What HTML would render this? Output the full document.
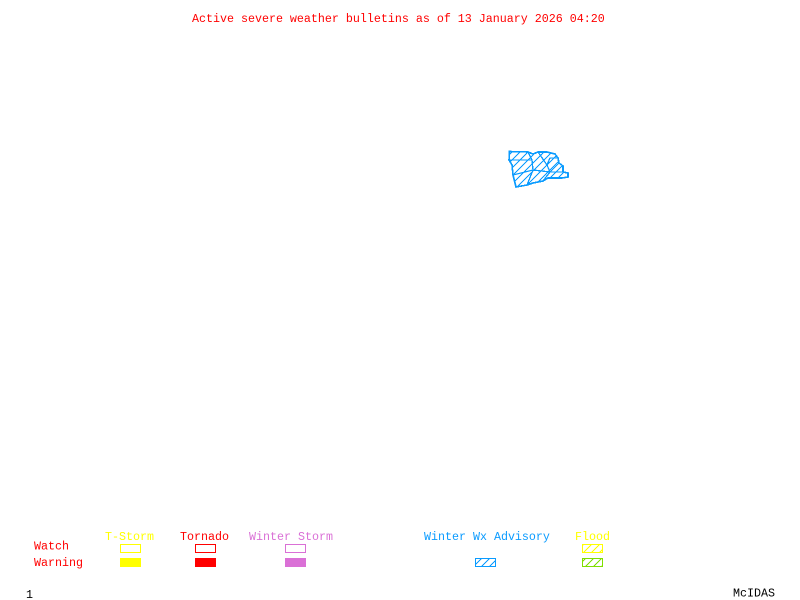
<!DOCTYPE html>
<html><head><meta charset="utf-8"><style>
html,body{margin:0;padding:0;background:#fff;width:800px;height:600px;overflow:hidden}
svg{display:block}
text{font-family:"Liberation Mono",monospace;font-size:11.67px;white-space:pre}
</style></head><body>
<svg width="800" height="600" viewBox="0 0 800 600" xmlns="http://www.w3.org/2000/svg">
<defs>
<pattern id="hb" width="8" height="8" patternUnits="userSpaceOnUse"><path shape-rendering="crispEdges" d="M-2 10L10 -2M-2 2L2 -2M6 10L10 6" stroke="#0a9bff" stroke-width="1.2" fill="none"/></pattern>
<pattern id="hy" width="8" height="8" patternUnits="userSpaceOnUse"><path shape-rendering="crispEdges" d="M-2 10L10 -2M-2 2L2 -2M6 10L10 6" stroke="#ffff00" stroke-width="1.2" fill="none"/></pattern>
<pattern id="hg" width="8" height="8" patternUnits="userSpaceOnUse"><path shape-rendering="crispEdges" d="M-2 10L10 -2M-2 2L2 -2M6 10L10 6" stroke="#7fdf00" stroke-width="1.2" fill="none"/></pattern>
</defs>
<rect width="800" height="600" fill="#fff"/>
<text x="192" y="22" fill="#ff0000">Active severe weather bulletins as of 13 January 2026 04:20</text>

<g stroke="#0a9bff" stroke-width="1.6" fill="url(#hb)" stroke-linejoin="miter" shape-rendering="crispEdges">
<path d="M509.500 151.500L528 152L533 154L538 152L547 152L555 154L558 158L559 163L563 166L563 172L568 173L568 177L562 178L553 178L548 178L543 181L538 182L533 183L527 185L516 187L513 175L512 165L509 160Z"/>
<path fill="none" stroke-width="1.3" d="M509 160L532 160L533 170L513 175M528 152L532 160M533 170L550 172L547 165L538 152M547 165L550 158L558 158M533 170L527 185M550 172L543 181M550 172L559 163M550 172L563 172"/>
</g>

<text x="105" y="540" fill="#ffff00">T-Storm</text>
<text x="180" y="540" fill="#ff0000">Tornado</text>
<text x="249" y="540" fill="#da70d6">Winter Storm</text>
<text x="424" y="540" fill="#0a9bff">Winter Wx Advisory</text>
<text x="575" y="540" fill="#ffff00">Flood</text>
<text x="34" y="549.500" fill="#ff0000">Watch</text>
<text x="34" y="566" fill="#ff0000">Warning</text>

<g shape-rendering="crispEdges">
<rect x="120.500" y="544.500" width="20" height="8" fill="none" stroke="#ffff00"/>
<rect x="120" y="558" width="21" height="9" fill="#ffff00"/>
<rect x="195.500" y="544.500" width="20" height="8" fill="none" stroke="#ff0000"/>
<rect x="195" y="558" width="21" height="9" fill="#ff0000"/>
<rect x="285.500" y="544.500" width="20" height="8" fill="none" stroke="#da70d6"/>
<rect x="285" y="558" width="21" height="9" fill="#da70d6"/>
<rect x="475.500" y="558.500" width="20" height="8" fill="url(#hb)" stroke="#0a9bff"/>
<rect x="582.500" y="544.500" width="20" height="8" fill="url(#hy)" stroke="#ffff00"/>
<rect x="582.500" y="558.500" width="20" height="8" fill="url(#hg)" stroke="#7fdf00"/>
</g>

<text x="26" y="598" fill="#000">1</text>
<text x="733" y="596.500" fill="#000">McIDAS</text>
</svg>
</body></html>
